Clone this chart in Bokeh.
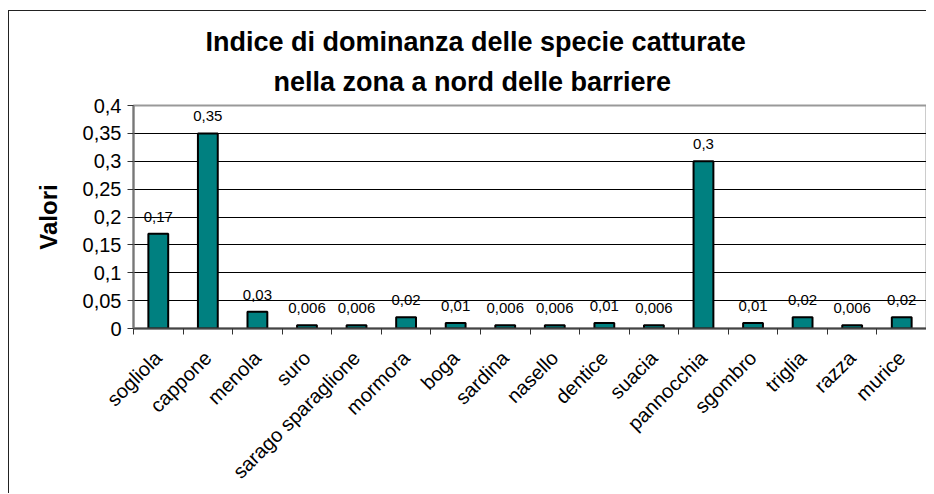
from bokeh.plotting import figure
from bokeh.models import Range1d, FixedTicker, Title, ColumnDataSource
from bokeh.embed import file_html
from bokeh.resources import INLINE
from math import pi

species = ["sogliola", "cappone", "menola", "suro", "sarago sparaglione", "mormora",
           "boga", "sardina", "nasello", "dentice", "suacia", "pannocchia",
           "sgombro", "triglia", "razza", "murice"]
values = [0.17, 0.35, 0.03, 0.006, 0.006, 0.02, 0.01, 0.006, 0.006, 0.01,
          0.006, 0.3, 0.01, 0.02, 0.006, 0.02]
value_labels = ["0,17", "0,35", "0,03", "0,006", "0,006", "0,02", "0,01", "0,006",
                "0,006", "0,01", "0,006", "0,3", "0,01", "0,02", "0,006", "0,02"]
y_ticks = [0, 0.05, 0.1, 0.15, 0.2, 0.25, 0.3, 0.35, 0.4]
y_tick_labels = ["0", "0,05", "0,1", "0,15", "0,2", "0,25", "0,3", "0,35", "0,4"]
title_lines = ["Indice di dominanza delle specie catturate",
               "nella zona a nord delle barriere"]
y_title = "Valori"

FONT = "Liberation Sans"
idx = list(range(len(species)))

p = figure(width=918, height=483, output_backend="svg", toolbar_location=None,
           x_range=Range1d(-0.5, len(species) - 0.5), y_range=Range1d(0, 0.4),
           min_border_left=124, min_border_right=1, min_border_top=94,
           min_border_bottom=166,
           styles={"border-left": "1px solid #222", "border-top": "1px solid #222",
                   "margin-top": "10px", "margin-left": "8px"})

p.background_fill_color = "white"
p.border_fill_color = "white"
p.outline_line_color = "#999999"
p.outline_line_width = 2

# grid
p.xgrid.visible = False
p.ygrid.ticker = FixedTicker(ticks=y_ticks[1:-1])
p.ygrid.grid_line_color = "black"
p.ygrid.grid_line_width = 1

src = ColumnDataSource(dict(x=idx, top=values, lab=value_labels))
p.vbar(x="x", top="top", width=0.4, source=src, fill_color="#008080",
       line_color="black", line_width=2)
p.text(x="x", y="top", text="lab", source=src, text_align="center",
       text_baseline="middle", y_offset=-17, text_font_size="15px",
       text_font={"value": FONT}, text_color="black")

# y axis
ya = p.yaxis[0]
ya.ticker = FixedTicker(ticks=y_ticks)
ya.major_label_overrides = {t: l for t, l in zip(y_ticks, y_tick_labels)}
ya.major_label_text_font = FONT
ya.major_label_text_font_size = "20px"
ya.major_label_text_color = "black"
ya.major_tick_out = 6
ya.major_tick_in = 0
ya.minor_tick_out = 0
ya.minor_tick_in = 0
ya.major_tick_line_color = "#333333"
ya.axis_line_color = "#777777"
ya.axis_line_width = 2
ya.major_label_standoff = 6
ya.axis_label = y_title
ya.axis_label_text_font = FONT
ya.axis_label_text_font_style = "bold"
ya.axis_label_text_font_size = "24px"
ya.axis_label_text_color = "black"
ya.axis_label_standoff = 18

# x axis
xa = p.xaxis[0]
xa.ticker = FixedTicker(ticks=idx, minor_ticks=[i - 0.5 for i in range(len(species) + 1)])
xa.major_label_overrides = {i: s for i, s in zip(idx, species)}
xa.major_label_orientation = pi / 4
xa.major_label_text_font = FONT
xa.major_label_text_font_size = "20px"
xa.major_label_text_color = "black"
xa.major_label_standoff = 20
xa.major_tick_out = 0
xa.major_tick_in = 0
xa.minor_tick_out = 6
xa.minor_tick_in = 0
xa.minor_tick_line_color = "#333333"
xa.axis_line_color = "#444444"
xa.axis_line_width = 2

# title (two lines); second line added first so it sits closest to the plot
title_offsets = [72, 140]
title_standoffs = [0, 17]
for k in (1, 0):
    p.add_layout(Title(text=title_lines[k], align="left", offset=title_offsets[k],
                       text_font=FONT, text_font_style="bold", text_font_size="27px",
                       text_color="black", standoff=title_standoffs[k]), "above")

open("out.html", "w").write(file_html(p, INLINE))
